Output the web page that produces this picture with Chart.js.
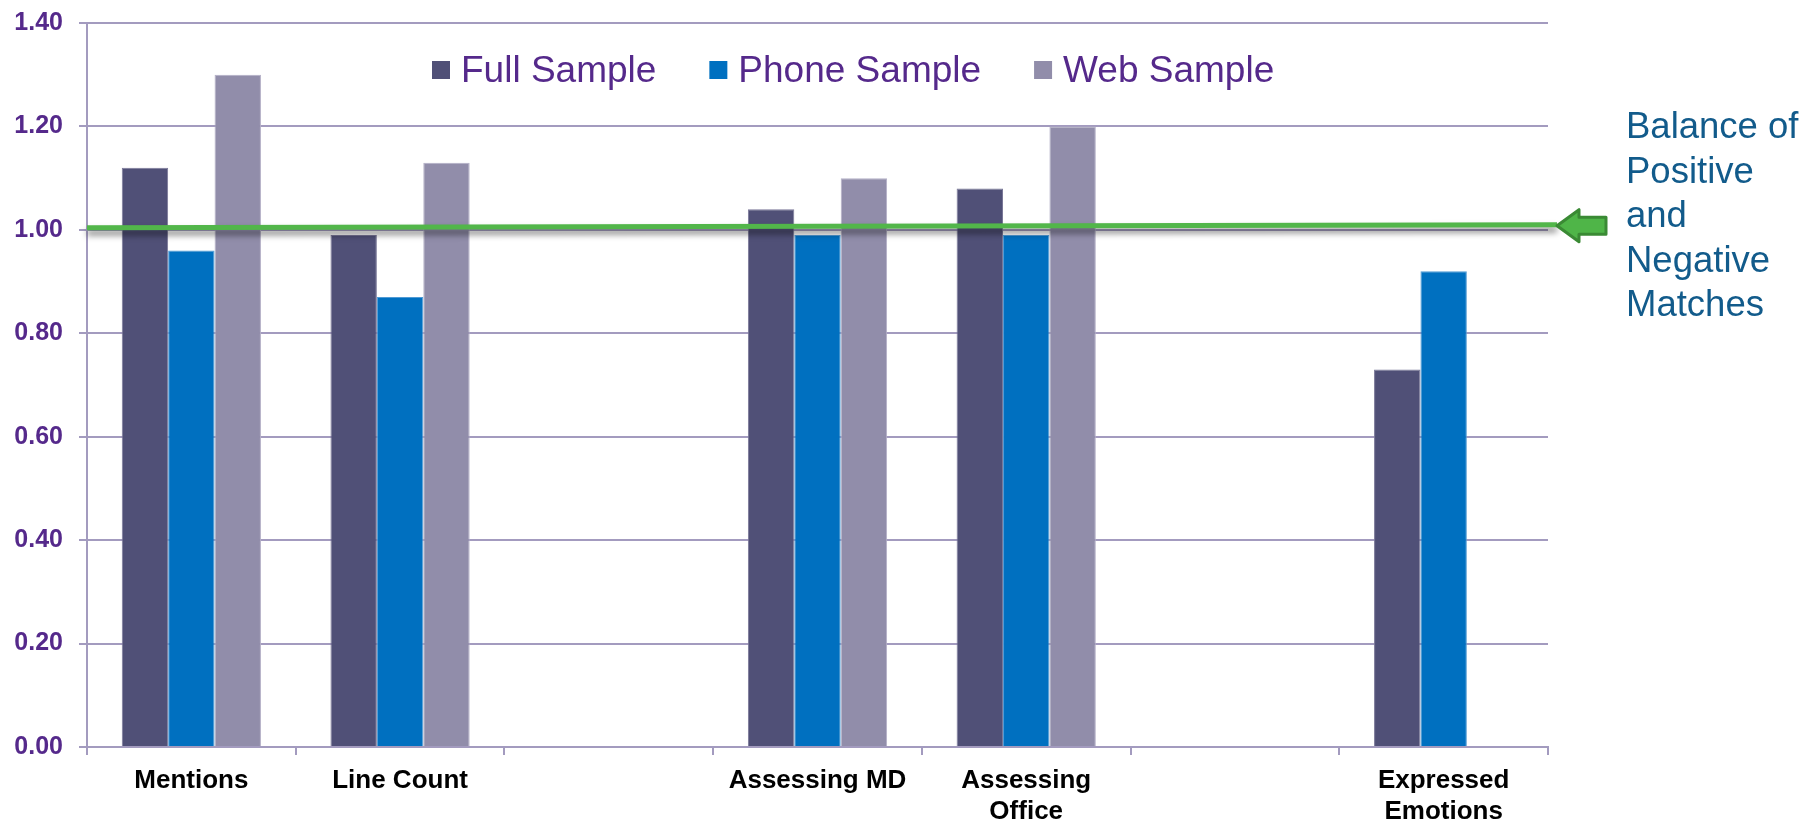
<!DOCTYPE html>
<html>
<head>
<meta charset="utf-8">
<title>Balance of Positive and Negative Matches</title>
<script src="https://cdn.jsdelivr.net/npm/chart.js@4.4.1/dist/chart.umd.min.js"></script>
<style>
  html, body { margin: 0; padding: 0; background: #ffffff; }
  #wrap { width: 1808px; height: 821px; }
  canvas { display: block; }
</style>
</head>
<body>
<div id="wrap"><canvas id="chart" width="1808" height="821"></canvas></div>
<script>
// Categories (two blank slots keep the original spacing between groups)
const categories = [
  'Mentions',
  'Line Count',
  '',
  'Assessing MD',
  ['Assessing', 'Office'],
  '',
  ['Expressed', 'Emotions']
];

// Ratio of positive to negative matches per sample
const fullSample  = [1.12, 0.99, null, 1.04, 1.08, null, 0.73];
const phoneSample = [0.96, 0.87, null, 0.99, 0.99, null, 0.92];
const webSample   = [1.30, 1.13, null, 1.10, 1.20, null, null];

const seriesNames = ['Full Sample', 'Phone Sample', 'Web Sample'];

// Value axis
const yTicks = [0, 0.2, 0.4, 0.6, 0.8, 1.0, 1.2, 1.4];

// Reference line for an even balance (drawn with a slight rise toward the arrow)
const balanceLine = [1.004, 1.010];
const balanceNote = ['Balance of', 'Positive', 'and', 'Negative', 'Matches'];

const FONT = "'Liberation Sans', Arial, Helvetica, sans-serif";
const PURPLE = '#55298b';
const GRID = '#a39bbf';
const colors = ['#505077', '#0070c0', '#918daa'];
const edges  = ['#7a7898', '#4f9ad4', '#b3afc6'];

// Legend in the upper part of the plot, plus the balance line, arrow and note
const overlay = {
  id: 'overlay',
  afterDatasetsDraw(chart) {
    const ctx = chart.ctx;
    const area = chart.chartArea;
    const y = chart.scales.y;

    // legend
    ctx.save();
    ctx.font = '37px ' + FONT;
    ctx.textBaseline = 'alphabetic';
    let x = 432;
    chart.data.datasets.forEach((ds, i) => {
      ctx.fillStyle = ds.backgroundColor;
      ctx.fillRect(x, 61, 18, 18);
      ctx.fillStyle = PURPLE;
      ctx.fillText(ds.label, x + 29, 82);
      x += 29 + ctx.measureText(ds.label).width + 53;
    });
    ctx.restore();

    // balance line with a soft shadow
    const x0 = area.left, x1 = area.right + 9;
    const y0 = y.getPixelForValue(balanceLine[0]);
    const y1 = y.getPixelForValue(balanceLine[1]);
    ctx.save();
    ctx.shadowColor = 'rgba(0,0,0,0.5)';
    ctx.shadowBlur = 6;
    ctx.shadowOffsetY = 5;
    ctx.strokeStyle = '#52b64a';
    ctx.lineWidth = 5;
    ctx.beginPath();
    ctx.moveTo(x0, y0);
    ctx.lineTo(x1, y1);
    ctx.stroke();
    ctx.restore();

    // arrow pointing at the line end
    const tx = x1, ty = y1 + 1;
    ctx.save();
    ctx.beginPath();
    ctx.moveTo(tx, ty);
    ctx.lineTo(tx + 22, ty - 16);
    ctx.lineTo(tx + 22, ty - 8.5);
    ctx.lineTo(tx + 49, ty - 8.5);
    ctx.lineTo(tx + 49, ty + 8.5);
    ctx.lineTo(tx + 22, ty + 8.5);
    ctx.lineTo(tx + 22, ty + 16);
    ctx.closePath();
    ctx.fillStyle = '#4fb548';
    ctx.fill();
    ctx.lineJoin = 'round';
    ctx.lineWidth = 3;
    ctx.strokeStyle = '#3a8a34';
    ctx.stroke();
    ctx.restore();

    // note text
    ctx.save();
    ctx.font = '36.5px ' + FONT;
    ctx.fillStyle = '#125b8b';
    ctx.textBaseline = 'alphabetic';
    balanceNote.forEach((line, i) => {
      ctx.fillText(line, 1626, 138 + i * 44.5);
    });
    ctx.restore();
  }
};

const seriesValues = [fullSample, phoneSample, webSample];

new Chart(document.getElementById('chart'), {
  type: 'bar',
  data: {
    labels: categories,
    datasets: seriesValues.map((vals, i) => ({
      label: seriesNames[i],
      data: vals,
      backgroundColor: colors[i],
      borderColor: edges[i],
      borderWidth: 1,
      categoryPercentage: 0.667,
      barPercentage: 1.0
    }))
  },
  options: {
    responsive: false,
    animation: false,
    devicePixelRatio: 1,
    layout: { padding: { left: 0, right: 260, top: 23, bottom: 0 } },
    plugins: {
      legend: { display: false },
      tooltip: { enabled: false }
    },
    scales: {
      x: {
        offset: true,
        grid: {
          display: true,
          offset: true,
          drawOnChartArea: false,
          drawTicks: true,
          tickLength: 8,
          color: GRID,
          lineWidth: 2
        },
        border: { display: true, color: GRID, width: 2 },
        ticks: {
          autoSkip: false,
          maxRotation: 0,
          minRotation: 0,
          padding: 10,
          color: '#000000',
          font: { family: FONT, size: 26, weight: 'bold', lineHeight: 1.2 }
        },
        afterFit(scale) {
          scale.height = 74;
          scale.paddingLeft = 0;
          scale.paddingRight = 0;
        }
      },
      y: {
        min: 0,
        max: 1.4,
        afterBuildTicks(scale) { scale.ticks = yTicks.map(v => ({ value: v })); },
        grid: {
          color: GRID,
          lineWidth: 2,
          tickLength: 8,
          drawTicks: true
        },
        border: { display: true, color: GRID, width: 2 },
        ticks: {
          padding: 16,
          color: PURPLE,
          font: { family: FONT, size: 25, weight: 'bold' },
          callback: (v) => Number(v).toFixed(2)
        },
        afterFit(scale) {
          scale.width = 87;
          scale.paddingTop = 0;
          scale.paddingBottom = 0;
        }
      }
    }
  },
  plugins: [overlay]
});
</script>
</body>
</html>
